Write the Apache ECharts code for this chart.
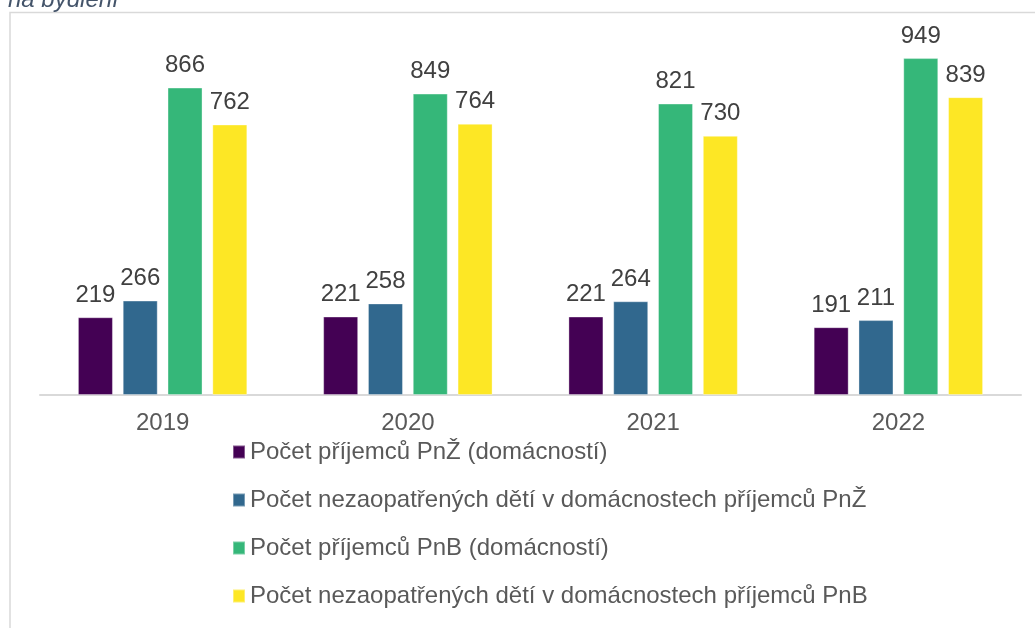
<!DOCTYPE html>
<html>
<head>
<meta charset="utf-8">
<script src="https://cdn.jsdelivr.net/npm/echarts@6/dist/echarts.min.js"></script>
<style>html,body{margin:0;padding:0;background:#fff;}#c{width:1035px;height:628px;}</style>
</head>
<body>
<div id="c"></div>
<script>
const categories = ['2019', '2020', '2021', '2022'];
const seriesNames = [
  'Počet příjemců PnŽ (domácností)',
  'Počet nezaopatřených dětí v domácnostech příjemců PnŽ',
  'Počet příjemců PnB (domácností)',
  'Počet nezaopatřených dětí v domácnostech příjemců PnB'
];
const pnzHouseholds = [219, 221, 221, 191];
const pnzChildren = [266, 258, 264, 211];
const pnbHouseholds = [866, 849, 821, 949];
const pnbChildren = [762, 764, 730, 839];
const colors = ['#440154', '#31688E', '#35B779', '#FDE725'];
const titleText = 'na bydlení';

const values = [pnzHouseholds, pnzChildren, pnbHouseholds, pnbChildren];
const chart = echarts.init(document.getElementById('c'));
chart.setOption({
  animation: false,
  backgroundColor: '#fff',
  textStyle: { fontFamily: 'Liberation Sans, Arial, sans-serif' },
  title: {
    text: titleText, left: 3, top: -17,
    textStyle: { fontStyle: 'italic', fontWeight: 'normal', fontSize: 24, color: '#44546A', fontFamily: 'Liberation Sans, Arial, sans-serif' }
  },
  graphic: [{
    type: 'rect', silent: true, z: -1,
    shape: { x: 10, y: 12.5, width: 1200, height: 800 },
    style: { fill: 'none', stroke: '#D9D9D9', lineWidth: 1.5 }
  }],
  legend: {
    orient: 'vertical', left: 227, top: 435,
    itemWidth: 12, itemHeight: 13, itemGap: 24,
    icon: 'rect',
    textStyle: { fontSize: 24, color: '#595959', padding: [0, 0, 0, 0] },
    data: seriesNames
  },
  grid: { left: 40, right: 14, top: 40, bottom: 233, containLabel: false },
  xAxis: {
    type: 'category', data: categories,
    axisLine: { lineStyle: { color: '#D9D9D9', width: 2 } },
    axisTick: { show: false },
    axisLabel: { fontSize: 24, color: '#595959', margin: 16 }
  },
  yAxis: { type: 'value', min: 0, max: 1000, show: false, splitLine: { show: false } },
  series: values.map((v, i) => ({
    name: seriesNames[i], type: 'bar', data: v,
    barWidth: 35, barGap: '28%',
    itemStyle: { color: colors[i], borderColor: 'rgba(255,255,255,0.35)', borderWidth: 1 },
    label: { show: true, position: 'top', distance: 10, fontSize: 24, color: '#404040' }
  }))
});
</script>
</body>
</html>
